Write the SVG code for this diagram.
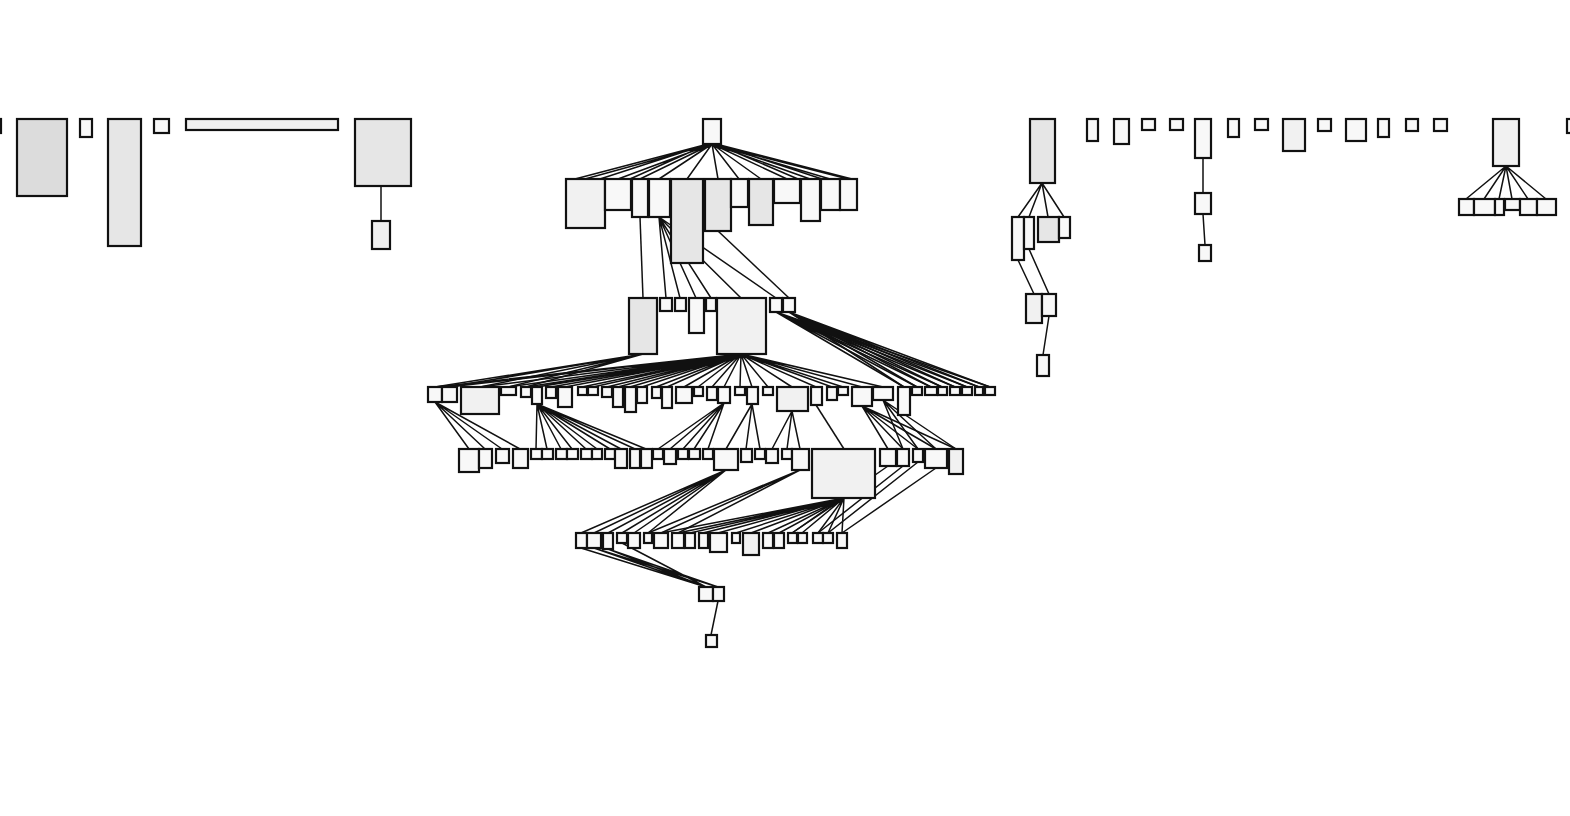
<svg xmlns="http://www.w3.org/2000/svg" width="1570" height="816" viewBox="0 0 1570 816">
<style>
rect{stroke:#111;stroke-width:2.2}
.w{fill:#f8f8f8}.l{fill:#f1f1f1}.g{fill:#e6e6e6}.d{fill:#dcdcdc}
.e path{fill:none;stroke:#111;stroke-width:1.5}
</style>
<g class="e" id="connectors">
<path d="M381 186L381 221"/>
<path d="M712 144L585 179M712 144L618 179M712 144L640 179M712 144L659 179M712 144L687 179M712 144L718 179M712 144L739 179M712 144L761 179M712 144L787 179M712 144L810 179M712 144L830 179M712 144L848 179M708 144L575 179M708 144L600 179M716 144L822 179M716 144L852 179M708 144L630 179M716 144L798 179"/>
<path d="M640 217L643 298"/>
<path d="M659 217L666 298M659 217L680 298M659 217L696 298M659 217L711 298M659 217L741 298M659 217L776 298"/>
<path d="M718 231L789 298"/>
<path d="M643 354L435 387M643 354L449 387M643 354L480 387M643 354L508 387M643 354L526 387"/>
<path d="M741 354L435 387M741 354L449 387M741 354L480 387M741 354L508 387M741 354L526 387M741 354L537 387M741 354L551 387M741 354L565 387M741 354L582 387M741 354L593 387M741 354L607 387M741 354L618 387M741 354L630 387M741 354L642 387M741 354L656 387M741 354L667 387M741 354L684 387M741 354L698 387M741 354L712 387M741 354L724 387M741 354L740 387M741 354L752 387M741 354L768 387M741 354L792 387M741 354L816 387M741 354L832 387M741 354L843 387M741 354L862 387M741 354L883 387"/>
<path d="M776 312L904 387M776 312L917 387M776 312L931 387M776 312L942 387M776 312L955 387M776 312L967 387M776 312L979 387M776 312L990 387"/>
<path d="M789 312L904 387M789 312L917 387M789 312L931 387M789 312L942 387M789 312L955 387M789 312L967 387M789 312L979 387M789 312L990 387"/>
<path d="M435 402L469 449M435 402L485 449M435 402L502 449M435 402L520 449"/>
<path d="M537 404L536 449M537 404L547 449M537 404L561 449M537 404L572 449M537 404L586 449M537 404L597 449M537 404L610 449M537 404L621 449M537 404L635 449M537 404L646 449"/>
<path d="M724 403L658 449M724 403L670 449M724 403L683 449M724 403L694 449M724 403L708 449"/>
<path d="M752 404L726 449M752 404L746 449M752 404L760 449"/>
<path d="M792 411L772 449M792 411L787 449M792 411L800 449"/>
<path d="M816 405L844 449"/>
<path d="M862 406L888 449M862 406L903 449M862 406L918 449M862 406L936 449M862 406L956 449"/>
<path d="M883 400L903 449M883 400L918 449M883 400L936 449M883 400L956 449"/>
<path d="M726 470L581 533M726 470L594 533M726 470L608 533M726 470L622 533M726 470L634 533M726 470L648 533"/>
<path d="M800 470L648 533M800 470L661 533M800 470L678 533"/>
<path d="M844 498L661 533M844 498L678 533M844 498L690 533M844 498L703 533M844 498L718 533M844 498L736 533M844 498L751 533M844 498L768 533M844 498L779 533M844 498L792 533M844 498L802 533M844 498L818 533M844 498L828 533M844 498L842 533"/>
<path d="M888 466L792 533M903 466L818 533M918 462L828 533M936 468L842 533"/>
<path d="M581 548L706 587M594 548L706 587M608 549L706 587M622 543L706 587M594 548L718 587M608 549L718 587"/>
<path d="M718 601L711 635"/>
<path d="M1042 183L1018 217M1042 183L1029 217M1042 183L1048 217M1042 183L1064 217M1018 260L1034 294M1029 249L1049 294M1049 316L1043 355"/>
<path d="M1203 158L1203 193M1203 214L1205 245"/>
<path d="M1506 166L1466 199M1506 166L1484 199M1506 166L1499 199M1506 166L1512 199M1506 166L1528 199M1506 166L1546 199"/>
</g>
<g id="t0"><rect class="w" x="-8" y="119" width="9" height="14"/></g>
<g id="t1"><rect class="d" x="17" y="119" width="50" height="77"/></g>
<g id="t2"><rect class="w" x="80" y="119" width="12" height="18"/></g>
<g id="t3"><rect class="g" x="108" y="119" width="33" height="127"/></g>
<g id="t4"><rect class="w" x="154" y="119" width="15" height="14"/></g>
<g id="t5"><rect class="l" x="186" y="119" width="152" height="11"/></g>
<g id="t6"><rect class="g" x="355" y="119" width="56" height="67"/></g>
<g id="t7"><rect class="l" x="372" y="221" width="18" height="28"/></g>
<g id="root"><rect class="w" x="703" y="119" width="18" height="25"/></g>
<g id="a0"><rect class="l" x="566" y="179" width="39" height="49"/></g>
<g id="a1"><rect class="w" x="605" y="179" width="26" height="31"/></g>
<g id="a2"><rect class="w" x="632" y="179" width="16" height="38"/></g>
<g id="a3"><rect class="w" x="649" y="179" width="21" height="38"/></g>
<g id="a4"><rect class="g" x="671" y="179" width="32" height="84"/></g>
<g id="a5"><rect class="g" x="705" y="179" width="26" height="52"/></g>
<g id="a6"><rect class="w" x="731" y="179" width="17" height="28"/></g>
<g id="a7"><rect class="g" x="749" y="179" width="24" height="46"/></g>
<g id="a8"><rect class="w" x="774" y="179" width="26" height="24"/></g>
<g id="a9"><rect class="w" x="801" y="179" width="19" height="42"/></g>
<g id="a10"><rect class="w" x="821" y="179" width="19" height="31"/></g>
<g id="a11"><rect class="w" x="840" y="179" width="17" height="31"/></g>
<g id="b0"><rect class="g" x="629" y="298" width="28" height="56"/></g>
<g id="b1"><rect class="w" x="660" y="298" width="12" height="13"/></g>
<g id="b2"><rect class="w" x="675" y="298" width="11" height="13"/></g>
<g id="b3"><rect class="w" x="689" y="298" width="15" height="35"/></g>
<g id="b4"><rect class="w" x="706" y="298" width="10" height="13"/></g>
<g id="b5"><rect class="l" x="717" y="298" width="49" height="56"/></g>
<g id="b6"><rect class="w" x="770" y="298" width="12" height="14"/></g>
<g id="b7"><rect class="w" x="783" y="298" width="12" height="14"/></g>
<g id="r4-0"><rect class="w" x="428" y="387" width="14" height="15"/></g>
<g id="r4-1"><rect class="w" x="442" y="387" width="15" height="15"/></g>
<g id="r4-2"><rect class="l" x="461" y="387" width="38" height="27"/></g>
<g id="r4-3"><rect class="w" x="501" y="387" width="15" height="8"/></g>
<g id="r4-4"><rect class="w" x="521" y="387" width="10" height="10"/></g>
<g id="r4-5"><rect class="w" x="532" y="387" width="10" height="17"/></g>
<g id="r4-6"><rect class="w" x="546" y="387" width="10" height="11"/></g>
<g id="r4-7"><rect class="w" x="558" y="387" width="14" height="20"/></g>
<g id="r4-8"><rect class="w" x="578" y="387" width="9" height="8"/></g>
<g id="r4-9"><rect class="w" x="588" y="387" width="10" height="8"/></g>
<g id="r4-10"><rect class="w" x="602" y="387" width="10" height="10"/></g>
<g id="r4-11"><rect class="w" x="613" y="387" width="10" height="20"/></g>
<g id="r4-12"><rect class="w" x="625" y="387" width="11" height="25"/></g>
<g id="r4-13"><rect class="w" x="637" y="387" width="10" height="16"/></g>
<g id="r4-14"><rect class="w" x="652" y="387" width="9" height="11"/></g>
<g id="r4-15"><rect class="w" x="662" y="387" width="10" height="21"/></g>
<g id="r4-16"><rect class="w" x="676" y="387" width="16" height="16"/></g>
<g id="r4-17"><rect class="w" x="694" y="387" width="9" height="9"/></g>
<g id="r4-18"><rect class="w" x="707" y="387" width="10" height="13"/></g>
<g id="r4-19"><rect class="w" x="718" y="387" width="12" height="16"/></g>
<g id="r4-20"><rect class="w" x="735" y="387" width="10" height="8"/></g>
<g id="r4-21"><rect class="w" x="747" y="387" width="11" height="17"/></g>
<g id="r4-22"><rect class="w" x="763" y="387" width="10" height="8"/></g>
<g id="r4-23"><rect class="l" x="777" y="387" width="31" height="24"/></g>
<g id="r4-24"><rect class="w" x="811" y="387" width="11" height="18"/></g>
<g id="r4-25"><rect class="w" x="827" y="387" width="10" height="13"/></g>
<g id="r4-26"><rect class="w" x="838" y="387" width="10" height="8"/></g>
<g id="r4-27"><rect class="w" x="852" y="387" width="20" height="19"/></g>
<g id="r4-28"><rect class="w" x="873" y="387" width="20" height="13"/></g>
<g id="r4-29"><rect class="w" x="898" y="387" width="12" height="28"/></g>
<g id="r4-30"><rect class="w" x="912" y="387" width="10" height="8"/></g>
<g id="r4-31"><rect class="w" x="925" y="387" width="12" height="8"/></g>
<g id="r4-32"><rect class="w" x="938" y="387" width="9" height="8"/></g>
<g id="r4-33"><rect class="w" x="950" y="387" width="10" height="8"/></g>
<g id="r4-34"><rect class="w" x="962" y="387" width="10" height="8"/></g>
<g id="r4-35"><rect class="w" x="975" y="387" width="8" height="8"/></g>
<g id="r4-36"><rect class="w" x="985" y="387" width="10" height="8"/></g>
<g id="r5-0"><rect class="w" x="459" y="449" width="20" height="23"/></g>
<g id="r5-1"><rect class="w" x="479" y="449" width="13" height="19"/></g>
<g id="r5-2"><rect class="w" x="496" y="449" width="13" height="14"/></g>
<g id="r5-3"><rect class="w" x="513" y="449" width="15" height="19"/></g>
<g id="r5-4"><rect class="w" x="531" y="449" width="11" height="10"/></g>
<g id="r5-5"><rect class="w" x="542" y="449" width="11" height="10"/></g>
<g id="r5-6"><rect class="w" x="556" y="449" width="11" height="10"/></g>
<g id="r5-7"><rect class="w" x="567" y="449" width="11" height="10"/></g>
<g id="r5-8"><rect class="w" x="581" y="449" width="11" height="10"/></g>
<g id="r5-9"><rect class="w" x="592" y="449" width="10" height="10"/></g>
<g id="r5-10"><rect class="w" x="605" y="449" width="10" height="10"/></g>
<g id="r5-11"><rect class="w" x="615" y="449" width="12" height="19"/></g>
<g id="r5-12"><rect class="w" x="630" y="449" width="10" height="19"/></g>
<g id="r5-13"><rect class="w" x="641" y="449" width="11" height="19"/></g>
<g id="r5-14"><rect class="w" x="653" y="449" width="10" height="10"/></g>
<g id="r5-15"><rect class="w" x="664" y="449" width="12" height="15"/></g>
<g id="r5-16"><rect class="w" x="678" y="449" width="10" height="10"/></g>
<g id="r5-17"><rect class="w" x="689" y="449" width="11" height="10"/></g>
<g id="r5-18"><rect class="w" x="703" y="449" width="10" height="10"/></g>
<g id="r5-19"><rect class="w" x="714" y="449" width="24" height="21"/></g>
<g id="r5-20"><rect class="w" x="741" y="449" width="11" height="13"/></g>
<g id="r5-21"><rect class="w" x="755" y="449" width="10" height="10"/></g>
<g id="r5-22"><rect class="w" x="766" y="449" width="12" height="14"/></g>
<g id="r5-23"><rect class="w" x="782" y="449" width="10" height="10"/></g>
<g id="r5-24"><rect class="w" x="792" y="449" width="17" height="21"/></g>
<g id="r5-25"><rect class="l" x="812" y="449" width="63" height="49"/></g>
<g id="r5-26"><rect class="w" x="880" y="449" width="16" height="17"/></g>
<g id="r5-27"><rect class="w" x="897" y="449" width="12" height="17"/></g>
<g id="r5-28"><rect class="w" x="913" y="449" width="10" height="13"/></g>
<g id="r5-29"><rect class="w" x="925" y="449" width="22" height="19"/></g>
<g id="r5-30"><rect class="l" x="949" y="449" width="14" height="25"/></g>
<g id="r6-0"><rect class="w" x="576" y="533" width="11" height="15"/></g>
<g id="r6-1"><rect class="w" x="587" y="533" width="14" height="15"/></g>
<g id="r6-2"><rect class="w" x="603" y="533" width="10" height="16"/></g>
<g id="r6-3"><rect class="w" x="617" y="533" width="10" height="10"/></g>
<g id="r6-4"><rect class="w" x="628" y="533" width="12" height="15"/></g>
<g id="r6-5"><rect class="w" x="644" y="533" width="8" height="10"/></g>
<g id="r6-6"><rect class="w" x="654" y="533" width="14" height="15"/></g>
<g id="r6-7"><rect class="w" x="672" y="533" width="12" height="15"/></g>
<g id="r6-8"><rect class="w" x="685" y="533" width="10" height="15"/></g>
<g id="r6-9"><rect class="w" x="699" y="533" width="9" height="15"/></g>
<g id="r6-10"><rect class="w" x="710" y="533" width="17" height="19"/></g>
<g id="r6-11"><rect class="w" x="732" y="533" width="8" height="10"/></g>
<g id="r6-12"><rect class="l" x="743" y="533" width="16" height="22"/></g>
<g id="r6-13"><rect class="w" x="763" y="533" width="10" height="15"/></g>
<g id="r6-14"><rect class="w" x="774" y="533" width="10" height="15"/></g>
<g id="r6-15"><rect class="w" x="788" y="533" width="9" height="10"/></g>
<g id="r6-16"><rect class="w" x="798" y="533" width="9" height="10"/></g>
<g id="r6-17"><rect class="w" x="813" y="533" width="10" height="10"/></g>
<g id="r6-18"><rect class="w" x="823" y="533" width="10" height="10"/></g>
<g id="r6-19"><rect class="w" x="837" y="533" width="10" height="15"/></g>
<g id="r7-0"><rect class="w" x="699" y="587" width="14" height="14"/></g>
<g id="r7-1"><rect class="w" x="713" y="587" width="11" height="14"/></g>
<g id="r8-0"><rect class="w" x="706" y="635" width="11" height="12"/></g>
<g id="A"><rect class="g" x="1030" y="119" width="25" height="64"/></g>
<g id="A1"><rect class="w" x="1012" y="217" width="12" height="43"/></g>
<g id="A2"><rect class="w" x="1024" y="217" width="10" height="32"/></g>
<g id="A3"><rect class="g" x="1038" y="217" width="21" height="25"/></g>
<g id="A4"><rect class="w" x="1059" y="217" width="11" height="21"/></g>
<g id="A5"><rect class="l" x="1026" y="294" width="16" height="29"/></g>
<g id="A6"><rect class="w" x="1042" y="294" width="14" height="22"/></g>
<g id="A7"><rect class="w" x="1037" y="355" width="12" height="21"/></g>
<g id="s1"><rect class="w" x="1087" y="119" width="11" height="22"/></g>
<g id="s2"><rect class="w" x="1114" y="119" width="15" height="25"/></g>
<g id="s3"><rect class="w" x="1142" y="119" width="13" height="11"/></g>
<g id="s4"><rect class="w" x="1170" y="119" width="13" height="11"/></g>
<g id="B"><rect class="w" x="1195" y="119" width="16" height="39"/></g>
<g id="B2"><rect class="w" x="1195" y="193" width="16" height="21"/></g>
<g id="B3"><rect class="w" x="1199" y="245" width="12" height="16"/></g>
<g id="s5"><rect class="w" x="1228" y="119" width="11" height="18"/></g>
<g id="s6"><rect class="w" x="1255" y="119" width="13" height="11"/></g>
<g id="s7"><rect class="l" x="1283" y="119" width="22" height="32"/></g>
<g id="s8"><rect class="w" x="1318" y="119" width="13" height="12"/></g>
<g id="s9"><rect class="w" x="1346" y="119" width="20" height="22"/></g>
<g id="s10"><rect class="w" x="1378" y="119" width="11" height="18"/></g>
<g id="s11"><rect class="w" x="1406" y="119" width="12" height="12"/></g>
<g id="s12"><rect class="w" x="1434" y="119" width="13" height="12"/></g>
<g id="C"><rect class="l" x="1493" y="119" width="26" height="47"/></g>
<g id="C1"><rect class="w" x="1459" y="199" width="15" height="16"/></g>
<g id="C2"><rect class="w" x="1474" y="199" width="21" height="16"/></g>
<g id="C3"><rect class="w" x="1495" y="199" width="9" height="16"/></g>
<g id="C4"><rect class="w" x="1505" y="199" width="15" height="11"/></g>
<g id="C5"><rect class="w" x="1520" y="199" width="17" height="16"/></g>
<g id="C6"><rect class="w" x="1537" y="199" width="19" height="16"/></g>
<g id="s13"><rect class="w" x="1567" y="119" width="9" height="14"/></g>
</svg>
